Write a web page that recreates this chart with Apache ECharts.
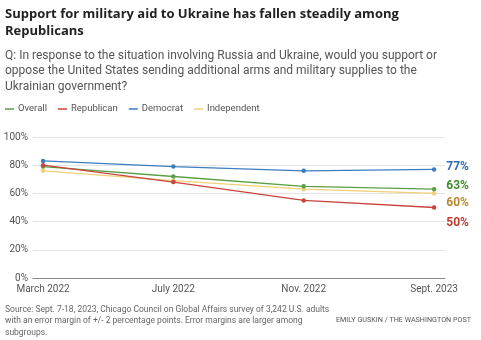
<!DOCTYPE html>
<html>
<head>
<meta charset="utf-8">
<script src="https://cdn.jsdelivr.net/npm/echarts@6/dist/echarts.min.js"></script>
<style>
  html, body { margin: 0; padding: 0; background: #fff; }
  #chart { width: 481px; height: 340px; }
</style>
</head>
<body>
<div id="chart"></div>
<script>
// Survey waves (x positions are indices 0..3)
const waves = ['March 2022', 'July 2022', 'Nov. 2022', 'Sept. 2023'];

// Share supporting more arms and military supplies to Ukraine (%)
const overall     = [79, 72, 65, 63];
const republican  = [80, 68, 55, 50];
const democrat    = [83, 79, 76, 77];
const independent = [76, 69, 63, 60];

const yTicks = [0, 20, 40, 60, 80, 100];

const FONT = 'Roboto, "Liberation Sans", sans-serif';
const HEAD_FONT = '"Open Sans", Roboto, sans-serif';

const groups = [
  { name: 'Overall',     data: overall,     color: '#5a9e45', labelColor: '#3f8a2c', dy: -3 },
  { name: 'Republican',  data: republican,  color: '#c8443f', labelColor: '#c0392f', dy: 15 },
  { name: 'Democrat',    data: democrat,    color: '#3d7cc0', labelColor: '#2d6cb4', dy: -2 },
  { name: 'Independent', data: independent, color: '#f2cf7a', labelColor: '#b8892c', dy: 10 }
];

const chart = echarts.init(document.getElementById('chart'), null, { renderer: 'canvas' });

const series = groups.map(g => ({
  name: g.name,
  type: 'line',
  data: g.data.map((v, i) => [i, v]),
  symbol: 'circle',
  symbolSize: 4.5,
  showSymbol: true,
  lineStyle: { color: g.color, width: 1.3 },
  itemStyle: { color: g.color },
  emphasis: { disabled: true },
  label: {
    show: true,
    position: 'right',
    distance: 0,
    offset: [10, g.dy],
    color: g.labelColor,
    fontFamily: FONT,
    fontWeight: 'bold',
    fontSize: 12,
    formatter: p => (p.dataIndex === g.data.length - 1 ? p.value[1] + '%' : '')
  },
  z: g.name === 'Independent' ? 1 : 2
}));

chart.setOption({
  animation: false,
  backgroundColor: '#fff',
  textStyle: { fontFamily: FONT },
  title: [
    {
      text: 'Support for military aid to Ukraine has fallen steadily among\nRepublicans',
      left: 5, top: 6, padding: 0,
      textStyle: { fontFamily: HEAD_FONT, fontWeight: 'bold', fontSize: 13, color: '#222', lineHeight: 17 }
    },
    {
      text: 'Q: In response to the situation involving Russia and Ukraine, would you support or\noppose the United States sending additional arms and military supplies to the\nUkrainian government?',
      left: 5, top: 48, padding: 0,
      textStyle: { fontFamily: FONT, fontWeight: 'normal', fontSize: 12, color: '#555', lineHeight: 15.5 }
    },
    {
      text: 'Source: Sept. 7-18, 2023, Chicago Council on Global Affairs survey of 3,242 U.S. adults\nwith an error margin of +/- 2 percentage points. Error margins are larger among\nsubgroups.',
      left: 5, top: 304, padding: 0,
      textStyle: { fontFamily: FONT, fontWeight: 'normal', fontSize: 8.5, color: '#666', lineHeight: 11.5 }
    },
    {
      text: 'EMILY GUSKIN / THE WASHINGTON POST',
      left: 336, top: 316, padding: 0,
      textStyle: { fontFamily: FONT, fontWeight: 'normal', fontSize: 7.2, color: '#555', lineHeight: 9 }
    }
  ],
  legend: {
    left: 5, top: 104, padding: 0,
    icon: 'rect',
    itemWidth: 9, itemHeight: 1.5,
    itemGap: 11,
    selectedMode: false,
    textStyle: { fontFamily: FONT, fontSize: 9.5, color: '#555', padding: [0, 0, 0, -1] },
    data: groups.map(g => ({ name: g.name, itemStyle: { color: g.color } }))
  },
  grid: { left: 33, right: 36, top: 137, bottom: 62, containLabel: false },
  xAxis: {
    type: 'value',
    min: -0.077, max: 3.084,
    axisLine: { show: true, lineStyle: { color: '#888', width: 1.2 } },
    axisTick: { show: false },
    splitLine: { show: false },
    axisLabel: {
      customValues: [0, 1, 2, 3],
      formatter: v => waves[Math.round(v)],
      color: '#555', fontSize: 10, fontFamily: FONT, margin: 6
    }
  },
  yAxis: {
    type: 'value',
    min: 0, max: 100, interval: 20,
    axisLine: { show: false },
    axisTick: { show: false },
    splitLine: { lineStyle: { color: '#e3e3e3', width: 1 } },
    axisLabel: {
      customValues: yTicks,
      formatter: v => v + '%',
      color: '#555', fontSize: 10, fontFamily: FONT, margin: 5
    }
  },
  series: series
});
</script>
</body>
</html>
